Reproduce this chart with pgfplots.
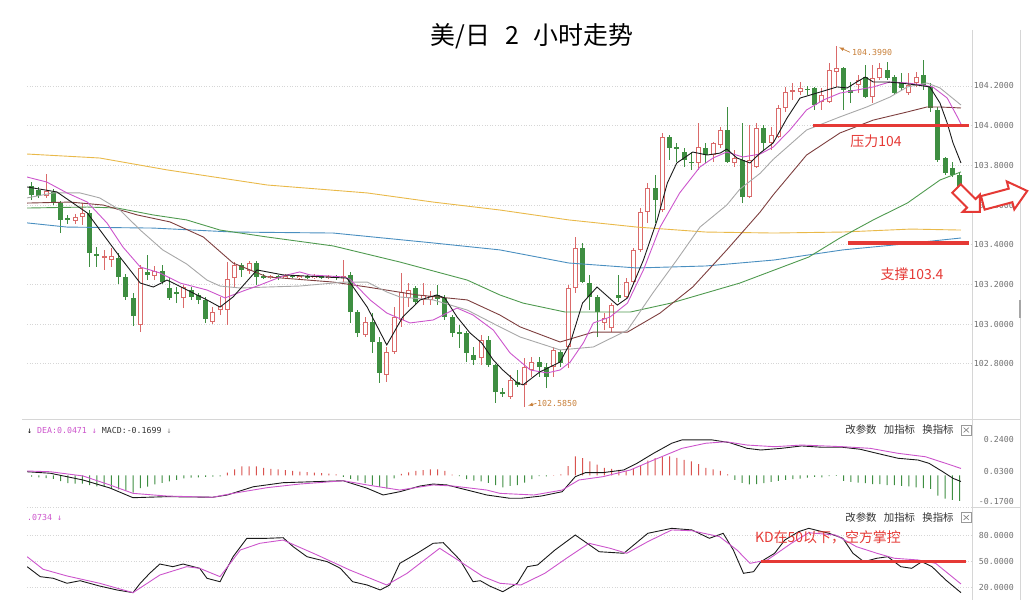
\documentclass[border=0pt]{standalone}
\usepackage{pgfplots}
\pgfplotsset{compat=1.18}
\usepackage{pgfplotstable}
\usepackage{fontspec}
\usetikzlibrary{shapes.arrows}
\setmainfont{DejaVu Sans}
\newfontfamily\cjk{Noto Sans CJK SC}
\newfontfamily\monof{DejaVu Sans Mono}

\definecolor{upc}{HTML}{DA6A6A}
\definecolor{dnc}{HTML}{3E8E41}
\definecolor{maK}{HTML}{1A1A1A}
\definecolor{maM}{HTML}{CC55CC}
\definecolor{maG}{HTML}{A8A8A8}
\definecolor{maB}{HTML}{7E3F3F}
\definecolor{maGr}{HTML}{4F9A4F}
\definecolor{maBl}{HTML}{4A8FC0}
\definecolor{maY}{HTML}{E9B949}
\definecolor{annred}{HTML}{E53935}
\definecolor{orng}{HTML}{C8803A}
\definecolor{tickgray}{HTML}{707070}
\definecolor{sepgray}{HTML}{D6D6D6}
\definecolor{histred}{HTML}{D9534F}
\definecolor{histgreen}{HTML}{3E8E41}
\definecolor{hdrgray}{HTML}{333333}

% up (hollow) candles: index open high low close
\pgfplotstableread{
i o h l c
2 103.646 103.756 103.636 103.671
6 103.520 103.555 103.505 103.540
7 103.540 103.610 103.500 103.560
10 103.333 103.374 103.273 103.343
11 103.323 103.384 103.288 103.343
15 102.996 103.298 102.960 103.283
17 103.243 103.293 103.222 103.268
21 103.132 103.197 103.081 103.187
25 103.011 103.086 103.001 103.061
26 103.071 103.137 103.046 103.091
27 103.071 103.313 102.996 103.227
28 103.232 103.313 103.182 103.298
30 103.268 103.318 103.253 103.308
33 103.232 103.248 103.227 103.243
35 103.232 103.253 103.227 103.243
37 103.232 103.248 103.227 103.243
39 103.232 103.253 103.227 103.243
41 103.232 103.248 103.227 103.243
43 103.232 103.323 103.212 103.243
46 102.945 103.036 102.935 103.011
49 102.744 102.885 102.709 102.860
50 102.860 103.086 102.850 103.036
51 103.021 103.258 102.986 103.162
52 103.132 103.207 103.086 103.172
54 103.122 103.207 103.096 103.147
55 103.122 103.167 103.096 103.142
62 102.829 102.945 102.794 102.920
66 102.633 102.744 102.623 102.719
68 102.694 102.829 102.585 102.784
69 102.769 102.834 102.734 102.809
72 102.784 102.885 102.734 102.870
74 102.885 103.197 102.779 103.182
75 103.182 103.439 103.157 103.384
79 103.006 103.056 102.970 103.031
80 102.981 103.106 102.960 103.096
82 103.137 103.232 103.132 103.212
83 103.212 103.384 103.207 103.374
84 103.374 103.585 103.363 103.565
85 103.565 103.711 103.510 103.686
87 103.575 103.963 103.565 103.943
92 103.812 104.013 103.777 103.892
94 103.852 103.918 103.817 103.913
95 103.903 103.993 103.887 103.978
97 103.812 103.877 103.792 103.837
99 103.641 104.003 103.636 103.827
100 103.792 104.013 103.787 103.988
102 103.913 103.993 103.877 103.953
103 103.943 104.104 103.938 104.089
104 104.089 104.195 104.069 104.170
105 104.170 104.215 104.129 104.180
106 104.170 104.220 104.154 104.190
109 104.119 104.190 104.079 104.154
110 104.119 104.316 104.114 104.280
111 104.270 104.399 104.195 104.290
114 104.205 104.255 104.164 104.230
116 104.144 104.306 104.114 104.240
117 104.240 104.316 104.230 104.290
121 104.164 104.265 104.154 104.205
122 104.215 104.270 104.195 104.245
}\upt

% down (filled) candles: index open high low close
\pgfplotstableread{
i o h l c
0 103.696 103.716 103.625 103.651
1 103.676 103.691 103.636 103.646
3 103.666 103.681 103.600 103.610
4 103.610 103.620 103.459 103.525
5 103.535 103.550 103.505 103.525
8 103.560 103.575 103.288 103.358
9 103.353 103.389 103.288 103.343
12 103.333 103.358 103.202 103.238
13 103.238 103.253 103.122 103.137
14 103.132 103.157 102.991 103.041
16 103.263 103.348 103.222 103.248
18 103.268 103.298 103.202 103.212
19 103.182 103.238 103.122 103.132
20 103.162 103.187 103.106 103.152
22 103.172 103.187 103.122 103.137
23 103.147 103.157 103.101 103.122
24 103.122 103.137 103.006 103.026
29 103.298 103.308 103.238 103.273
31 103.308 103.318 103.197 103.238
32 103.243 103.253 103.227 103.232
34 103.243 103.248 103.222 103.232
36 103.243 103.248 103.232 103.238
38 103.243 103.248 103.227 103.232
40 103.243 103.248 103.227 103.232
42 103.243 103.248 103.222 103.232
44 103.248 103.263 103.006 103.061
45 103.061 103.071 102.935 102.955
47 103.011 103.056 102.855 102.910
48 102.910 102.935 102.704 102.754
53 103.182 103.192 103.096 103.112
56 103.147 103.197 103.096 103.127
57 103.132 103.147 103.021 103.036
58 103.036 103.046 102.935 102.955
59 102.960 102.996 102.880 102.950
60 102.955 102.965 102.809 102.855
61 102.845 102.885 102.794 102.819
63 102.920 102.940 102.784 102.794
64 102.794 102.799 102.603 102.658
65 102.658 102.678 102.633 102.648
67 102.709 102.769 102.683 102.694
70 102.809 102.834 102.734 102.784
71 102.784 102.804 102.678 102.734
73 102.860 102.870 102.784 102.804
76 103.384 103.409 103.207 103.212
77 103.207 103.248 103.071 103.137
78 103.137 103.147 102.935 103.061
81 103.147 103.248 103.112 103.132
86 103.686 103.751 103.510 103.625
88 103.943 103.953 103.827 103.887
89 103.892 103.913 103.817 103.882
90 103.867 103.887 103.792 103.827
91 103.817 103.867 103.777 103.812
93 103.887 103.913 103.812 103.852
96 103.978 104.094 103.812 103.817
98 103.827 104.013 103.610 103.641
101 103.988 104.003 103.877 103.913
107 104.185 104.200 104.154 104.180
108 104.190 104.195 104.079 104.104
112 104.290 104.295 104.079 104.180
113 104.180 104.220 104.114 104.164
115 104.245 104.306 104.139 104.144
118 104.280 104.321 104.230 104.240
119 104.245 104.255 104.154 104.164
120 104.215 104.265 104.180 104.190
123 104.255 104.331 104.180 104.205
124 104.195 104.215 104.069 104.089
125 104.079 104.094 103.817 103.827
126 103.837 103.842 103.751 103.761
127 103.787 103.817 103.741 103.751
128 103.751 103.761 103.676 103.691
}\dnt

% MACD histogram, positive part
\pgfplotstableread{
i v
27 0.019
28 0.040
29 0.061
30 0.061
31 0.061
32 0.051
33 0.044
34 0.040
35 0.036
36 0.030
37 0.025
38 0.023
39 0.019
40 0.015
41 0.013
42 0.008
51 0.010
52 0.020
53 0.030
54 0.035
55 0.040
56 0.040
57 0.030
58 0.005
72 0.003
73 0.007
74 0.062
75 0.127
76 0.116
77 0.094
78 0.072
79 0.051
80 0.044
81 0.038
82 0.030
83 0.042
84 0.066
85 0.099
86 0.115
87 0.125
88 0.127
89 0.118
90 0.104
91 0.094
92 0.075
93 0.051
94 0.040
95 0.030
96 0.007
}\hpos

% MACD histogram, negative part
\pgfplotstableread{
i v
0 -0.008
1 -0.013
2 -0.017
3 -0.023
4 -0.038
5 -0.051
6 -0.055
7 -0.055
8 -0.065
9 -0.072
10 -0.076
11 -0.087
12 -0.093
13 -0.101
14 -0.114
15 -0.085
16 -0.075
17 -0.060
18 -0.050
19 -0.040
20 -0.030
21 -0.020
22 -0.015
23 -0.012
24 -0.010
25 -0.008
26 -0.006
43 -0.010
44 -0.023
45 -0.034
46 -0.051
47 -0.065
48 -0.076
49 -0.087
50 -0.020
59 -0.005
60 -0.025
61 -0.035
62 -0.040
63 -0.050
64 -0.065
65 -0.080
66 -0.069
67 -0.065
68 -0.047
69 -0.025
70 -0.005
71 -0.006
97 -0.030
98 -0.050
99 -0.060
100 -0.058
101 -0.051
102 -0.043
103 -0.036
104 -0.030
105 -0.025
106 -0.021
107 -0.015
108 -0.010
109 -0.012
110 -0.004
111 -0.003
112 -0.036
113 -0.043
114 -0.047
115 -0.051
116 -0.058
117 -0.058
118 -0.065
119 -0.065
120 -0.069
121 -0.073
122 -0.080
123 -0.085
124 -0.090
125 -0.134
126 -0.155
127 -0.163
128 -0.170
}\hneg

\pgfplotsset{
  panel/.style={scale only axis, width=945bp, xmin=-0.621, xmax=129.72,
    enlargelimits=false, axis line style={draw=none}, tick style={draw=none},
    major tick length=0pt, xtick=\empty, yticklabel pos=right,
    yticklabel style={anchor=east, xshift=42bp, inner sep=0pt,
      font=\monof\fontsize{8.3}{10}\selectfont, text=tickgray},
    grid style={sepgray, line width=0.8bp, dash pattern=on 1bp off 1.6bp}},
  cbar/.style 2 args={draw=none, no markers, forget plot,
    error bars/y dir=plus, error bars/y explicit, error bars/error mark=none,
    error bars/error bar style={line width=#2, draw=#1, solid}},
}

\begin{document}
\begin{tikzpicture}
\path[use as bounding box] (0bp,0bp) rectangle (1035bp,615bp);

% ---------------- main price panel ----------------
\begin{axis}[panel, at={(27bp,196bp)}, anchor=south west, height=389bp,
  ymin=102.5221, ymax=104.4819,
  ytick={102.8,103.0,103.2,103.4,103.6,103.8,104.0,104.2},
  yticklabels={102.8000,103.0000,103.2000,103.4000,103.6000,103.8000,104.0000,104.2000},
  ymajorgrids]
% wicks
\addplot[cbar={upc}{1bp}] table[x=i, y=l, y error expr=\thisrow{h}-\thisrow{l}] {\upt};
\addplot[cbar={dnc}{1bp}] table[x=i, y=l, y error expr=\thisrow{h}-\thisrow{l}] {\dnt};
% bodies
\addplot[cbar={dnc}{5bp}] table[x=i, y=c, y error expr=\thisrow{o}-\thisrow{c}] {\dnt};
\addplot[cbar={upc}{5bp}] table[x=i, y=o, y error expr=\thisrow{c}-\thisrow{o}] {\upt};
\addplot[cbar={white}{3bp}] table[x=i, y expr=\thisrow{o}+0.005, y error expr={max(\thisrow{c}-\thisrow{o}-0.01,0)}] {\upt};
% moving averages
\addplot[maY, line width=0.9bp] coordinates {(-0.6,103.857) (9.4,103.837) (18.7,103.777) (32.5,103.701) (46.3,103.661) (55.4,103.615) (64.6,103.575) (74.1,103.525) (83.5,103.489) (93.0,103.464) (102.4,103.459) (111.9,103.464) (121.3,103.479) (128.2,103.474)};
\addplot[maBl, line width=0.9bp] coordinates {(-0.6,103.510) (4.9,103.489) (16.8,103.484) (27.8,103.464) (41.6,103.459) (55.4,103.409) (64.6,103.374) (74.1,103.308) (83.5,103.283) (93.0,103.293) (102.4,103.323) (111.9,103.374) (119.0,103.399) (128.2,103.434)};
\addplot[maGr, line width=0.9bp] coordinates {(-0.6,103.585) (7.7,103.590) (11.8,103.585) (16.8,103.550) (21.4,103.525) (26.0,103.474) (32.5,103.439) (41.6,103.394) (50.8,103.313) (60.1,103.222) (64.6,103.147) (67.8,103.106) (73.6,103.061) (82.6,103.061) (88.2,103.106) (97.7,103.207) (107.2,103.338) (111.5,103.434) (116.1,103.525) (120.8,103.610) (125.3,103.726) (128.2,103.767)};
\addplot[maB, line width=0.9bp] coordinates {(-0.6,103.610) (5.3,103.615) (9.9,103.600) (14.6,103.550) (19.1,103.515) (23.7,103.439) (27.8,103.308) (32.5,103.238) (41.6,103.212) (46.3,103.187) (53.2,103.147) (60.1,103.122) (64.6,103.046) (67.4,102.986) (72.9,102.910) (77.5,102.960) (82.2,102.960) (86.7,103.056) (91.2,103.187) (95.9,103.374) (100.5,103.565) (102.3,103.651) (106.9,103.852) (111.5,103.963) (116.1,104.028) (120.8,104.069) (123.5,104.094) (125.3,104.094) (128.2,104.089)};
\addplot[maG, line width=0.9bp] coordinates {(-0.6,103.636) (3.0,103.661) (6.7,103.661) (9.4,103.636) (12.2,103.575) (15.0,103.474) (18.1,103.374) (21.4,103.303) (24.2,103.222) (26.0,103.192) (28.8,103.182) (32.5,103.187) (37.0,103.192) (41.6,103.207) (43.0,103.212) (46.3,103.212) (49.0,103.162) (50.8,103.137) (55.4,103.122) (60.1,103.071) (64.6,102.986) (67.4,102.935) (70.8,102.895) (72.9,102.870) (77.5,102.885) (82.2,102.970) (85.7,103.157) (89.0,103.323) (92.2,103.489) (95.9,103.600) (97.7,103.680) (100.5,103.760) (102.3,103.830) (106.9,103.978) (111.5,104.044) (115.2,104.094) (118.4,104.144) (120.8,104.195) (123.5,104.215) (125.3,104.190) (128.2,104.104)};
\addplot[maM, line width=0.9bp] coordinates {(-0.6,103.741) (2.1,103.716) (4.9,103.661) (7.7,103.615) (10.4,103.510) (12.6,103.389) (15.0,103.288) (17.7,103.258) (20.5,103.207) (24.2,103.172) (26.7,103.132) (29.2,103.167) (31.5,103.197) (34.7,103.243) (37.0,103.263) (38.4,103.248) (43.0,103.238) (43.9,103.227) (46.7,103.122) (49.0,103.056) (52.2,103.006) (55.4,103.021) (58.7,103.081) (60.9,103.046) (63.7,102.970) (66.0,102.855) (68.8,102.769) (71.1,102.754) (72.9,102.769) (74.3,102.809) (76.1,102.905) (77.5,103.006) (79.8,103.036) (82.2,103.106) (84.4,103.273) (86.7,103.489) (89.4,103.661) (92.2,103.792) (94.0,103.837) (95.9,103.867) (98.1,103.842) (100.5,103.857) (102.3,103.892) (104.6,103.978) (106.9,104.079) (109.2,104.129) (111.5,104.164) (113.9,104.180) (116.1,104.195) (118.4,104.220) (120.8,104.215) (122.9,104.205) (124.3,104.195) (126.3,104.139) (127.7,104.044) (128.2,104.008)};
\addplot[maK, line width=0.9bp] coordinates {(-0.6,103.691) (3.5,103.666) (7.7,103.560) (12.2,103.338) (15.0,103.207) (16.8,103.187) (18.7,103.222) (20.1,103.197) (24.2,103.122) (26.0,103.086) (27.8,103.137) (31.1,103.273) (34.7,103.248) (43.5,103.232) (46.3,103.086) (49.0,102.895) (51.2,103.036) (53.6,103.122) (55.9,103.147) (57.0,103.132) (58.7,103.036) (60.5,102.955) (62.1,102.905) (63.7,102.819) (65.0,102.769) (67.0,102.704) (67.8,102.694) (70.1,102.759) (72.9,102.809) (74.3,102.905) (76.0,103.106) (78.0,103.187) (80.8,103.096) (82.2,103.132) (84.4,103.323) (86.3,103.525) (87.7,103.711) (89.0,103.812) (91.2,103.867) (93.2,103.852) (95.0,103.862) (95.9,103.882) (97.3,103.837) (99.1,103.812) (100.5,103.862) (102.3,103.913) (104.2,104.038) (106.0,104.139) (108.3,104.164) (111.1,104.195) (112.5,104.190) (113.6,104.215) (115.0,104.245) (116.1,104.220) (118.0,104.220) (119.8,104.215) (122.1,104.205) (123.9,104.195) (125.3,104.114) (126.3,104.013) (127.1,103.913) (128.2,103.812)};
% resistance / support
\addplot[annred, line width=3.5bp] coordinates {(107.8,104.0) (129.3,104.0)};
\addplot[annred, line width=3.5bp] coordinates {(112.6,103.408) (129.3,103.408)};
\end{axis}

% ---------------- MACD panel ----------------
\begin{axis}[panel, at={(27bp,108bp)}, anchor=south west, height=88bp,
  ymin=-0.21, ymax=0.3767, ytick={-0.17,0.03,0.24},
  yticklabels={-0.1700,0.0300,0.2400}]
\addplot[ybar, bar width=1bp, bar shift=0pt, fill=histred, draw=none] table[x=i, y=v] {\hpos};
\addplot[ybar, bar width=1bp, bar shift=0pt, fill=histgreen, draw=none] table[x=i, y=v] {\hneg};
\addplot[maK, line width=0.9bp] coordinates {(-0.6,0.025) (2.6,0.015) (7.1,-0.030) (10.8,-0.083) (14.0,-0.148) (18.7,-0.141) (25.0,-0.145) (27.0,-0.130) (30.6,-0.075) (34.7,-0.048) (41.6,-0.037) (43.0,-0.035) (46.3,-0.085) (48.5,-0.130) (50.8,-0.108) (53.6,-0.070) (55.4,-0.057) (57.3,-0.063) (60.1,-0.097) (62.8,-0.130) (66.0,-0.152) (67.5,-0.152) (70.3,-0.137) (73.2,-0.108) (75.0,-0.008) (76.4,0.019) (78.8,0.019) (81.7,0.037) (83.5,0.081) (85.8,0.148) (88.3,0.215) (89.7,0.237) (93.9,0.237) (96.3,0.219) (98.7,0.181) (100.6,0.170) (103.4,0.181) (106.2,0.197) (109.1,0.188) (111.9,0.188) (114.3,0.175) (116.6,0.148) (119.5,0.115) (122.3,0.103) (123.8,0.081) (125.7,0.025) (127.1,-0.019) (128.2,-0.040)};
\addplot[maM, line width=0.9bp] coordinates {(-0.6,0.030) (2.6,0.025) (7.1,-0.003) (10.8,-0.063) (14.0,-0.119) (18.7,-0.137) (25.0,-0.145) (27.8,-0.119) (32.5,-0.081) (37.0,-0.057) (43.0,-0.035) (46.3,-0.063) (50.8,-0.097) (55.4,-0.063) (58.1,-0.070) (62.8,-0.097) (64.6,-0.119) (69.3,-0.130) (73.2,-0.097) (75.5,-0.030) (78.8,-0.008) (82.6,0.037) (85.8,0.103) (89.7,0.181) (93.0,0.215) (95.8,0.225) (98.7,0.203) (102.5,0.192) (106.2,0.203) (111.9,0.192) (115.7,0.181) (119.5,0.148) (123.3,0.125) (126.1,0.081) (128.2,0.047)};
\end{axis}

% ---------------- KD panel ----------------
\begin{axis}[panel, at={(27bp,18bp)}, anchor=south west, height=90bp,
  ymin=8.95, ymax=113.6, ytick={20,50,80},
  yticklabels={20.0000,50.0000,80.0000}, ymajorgrids]
\addplot[maK, line width=0.9bp] coordinates {(-0.6,44.2) (1.2,32.6) (3.0,30.7) (4.9,24.9) (6.7,27.9) (9.4,21.7) (11.8,17.1) (14.0,14.0) (15.0,24.9) (16.3,36.5) (17.7,47.3) (19.5,44.2) (20.9,47.3) (23.2,42.3) (24.2,30.7) (26.0,26.7) (27.8,55.8) (29.7,77.2) (32.5,77.2) (34.7,77.9) (36.1,67.4) (38.0,55.8) (40.8,50.0) (42.6,42.3) (44.3,26.7) (46.3,22.9) (48.1,17.1) (49.4,22.9) (50.8,48.1) (53.2,59.8) (55.4,71.4) (56.8,72.1) (59.1,52.0) (60.9,26.7) (61.9,27.9) (63.2,21.7) (65.0,15.1) (67.0,24.9) (68.4,44.2) (69.8,46.2) (72.2,63.6) (75.0,81.0) (78.3,61.6) (81.7,59.8) (85.0,83.0) (88.3,88.8) (91.1,86.9) (93.5,77.2) (95.4,83.0) (96.8,63.6) (98.2,36.5) (99.6,38.4) (100.6,50.0) (102.5,59.8) (103.9,75.2) (105.8,84.9) (107.2,88.8) (110.0,83.0) (111.9,77.2) (113.3,59.8) (114.8,50.0) (116.6,54.0) (118.1,55.8) (119.9,44.2) (121.4,42.3) (122.8,50.0) (124.2,44.2) (126.1,28.7) (128.2,14.0)};
\addplot[maM, line width=0.9bp] coordinates {(-0.6,55.8) (1.6,41.2) (4.9,33.4) (9.4,24.9) (14.0,14.0) (17.7,34.5) (21.4,44.2) (23.2,42.3) (26.0,32.6) (28.8,63.6) (31.5,71.4) (34.7,75.2) (39.4,57.8) (43.9,40.3) (49.0,22.9) (51.8,36.5) (56.3,65.6) (58.1,55.8) (62.3,32.6) (64.6,24.9) (67.5,22.9) (70.8,36.5) (74.1,55.8) (76.9,71.4) (79.8,65.6) (82.1,59.8) (85.0,73.3) (88.3,86.9) (91.1,86.0) (94.9,79.1) (97.3,63.6) (99.1,48.1) (101.5,52.0) (104.8,71.4) (107.2,83.7) (110.9,81.0) (113.8,67.4) (116.6,59.8) (119.0,54.0) (122.3,52.0) (124.7,48.1) (128.2,24.1)};
\addplot[annred, line width=3.5bp] coordinates {(100.6,50) (128.9,50)};
\end{axis}

% ---------------- frame lines ----------------
\draw[sepgray, line width=0.8bp] (22bp,196bp) -- (1020bp,196bp);
\draw[sepgray, line width=0.8bp] (972bp,585bp) -- (972bp,15bp);
\draw[sepgray, line width=0.8bp] (1020bp,585bp) -- (1020bp,15bp);
\draw[gray!70, line width=1.6bp] (1020bp,315bp) -- (1020bp,297bp);
\draw[sepgray, line width=0.8bp, dash pattern=on 1bp off 1.6bp] (27bp,108bp) -- (972bp,108bp);
\draw[sepgray, line width=0.8bp] (972bp,108bp) -- (1020bp,108bp);

% ---------------- texts ----------------
\node[font=\cjk\fontsize{25}{28}\selectfont, inner sep=0pt] at (532bp,578.5bp) {美/日\hspace{0.6em}2\hspace{0.6em}小时走势};

\node[font=\cjk\fontsize{14}{16}\selectfont, text=annred, inner sep=0pt] at (876bp,474bp) {压力104};
\node[font=\cjk\fontsize{14}{16}\selectfont, text=annred, inner sep=0pt] at (912bp,341bp) {支撑103.4};
\node[font=\cjk\fontsize{14}{16}\selectfont, text=annred, inner sep=0pt] at (828bp,78bp) {KD在50以下，空方掌控};

\node[font=\monof\fontsize{8.3}{10}\selectfont, text=orng, anchor=west, inner sep=0pt] at (852bp,563bp) {104.3990};
\draw[orng, line width=0.7bp, -latex] (850bp,562.7bp) -- (839bp,567.7bp);
\node[font=\monof\fontsize{8.3}{10}\selectfont, text=orng, anchor=west, inner sep=0pt] at (537bp,211.5bp) {102.5850};
\draw[orng, line width=0.7bp, -latex] (536.5bp,211.7bp) -- (528bp,209.3bp);

\node[font=\monof\fontsize{8.3}{10}\selectfont, anchor=west, inner sep=0pt] at (27bp,185bp)
  {\textcolor{black}{↓} \textcolor{maM}{DEA:0.0471 ↓} \textcolor{hdrgray}{MACD:-0.1699} \textcolor{gray}{↓}};
\node[font=\monof\fontsize{8.3}{10}\selectfont, anchor=west, inner sep=0pt, text=maM] at (27bp,97.5bp) {.0734 ↓};

\foreach \yy in {185,97.5} {
  \node[font=\cjk\fontsize{10.5}{12}\selectfont, text=hdrgray, inner sep=0pt] at (861bp,\yy bp) {改参数};
  \node[font=\cjk\fontsize{10.5}{12}\selectfont, text=hdrgray, inner sep=0pt] at (899.5bp,\yy bp) {加指标};
  \node[font=\cjk\fontsize{10.5}{12}\selectfont, text=hdrgray, inner sep=0pt] at (938bp,\yy bp) {换指标};
  \draw[gray!80, line width=0.6bp] (961bp,\yy bp-5bp) rectangle (971.5bp,\yy bp+5bp);
  \draw[gray, line width=0.6bp] (963.5bp,\yy bp-2.5bp) -- (969bp,\yy bp+2.5bp) (963.5bp,\yy bp+2.5bp) -- (969bp,\yy bp-2.5bp);
}

% red outline arrows
\node[single arrow, draw=annred, fill=white, line width=2bp, minimum height=33bp,
  inner sep=5bp, single arrow head extend=6bp, rotate=-45] at (966bp,417bp) {};
\node[single arrow, draw=annred, fill=white, line width=2bp, minimum height=46bp,
  inner sep=6bp, single arrow head extend=7.5bp, single arrow tip angle=80, rotate=15] at (1001bp,417bp) {};
\end{tikzpicture}
\end{document}
